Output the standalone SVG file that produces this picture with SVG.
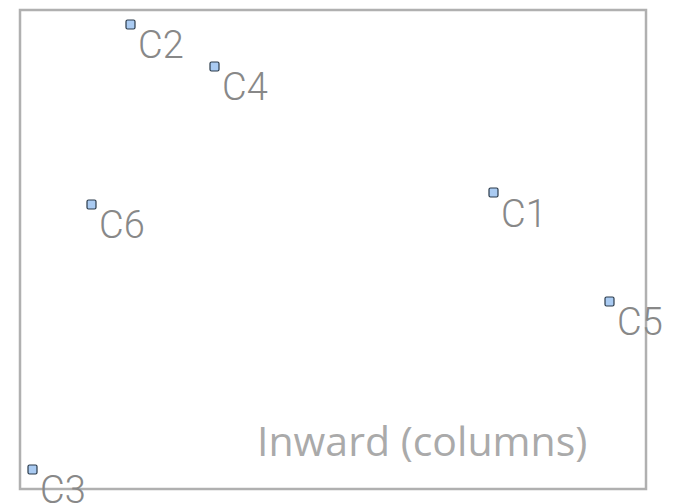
<svg xmlns="http://www.w3.org/2000/svg" width="679" height="503" viewBox="0 0 679 503">
  <style>
    .frame { fill: none; stroke: #b0b0b0; stroke-width: 2.5; }
    .pt { fill: #aacbf2; stroke: #2a3a4a; stroke-width: 1.2; }
    .lbl { font-family: Roboto, "Liberation Sans", sans-serif; font-size: 38px; font-weight: 300; fill: #888888; }
    .cap { font-family: "Open Sans", "Noto Sans", sans-serif; font-size: 41px; fill: #aaaaaa; }
  </style>
  <rect width="679" height="503" fill="#ffffff"/>
  <rect class="frame" x="20" y="10" width="626" height="479"/>
  <text class="cap" x="257" y="456">Inward (columns)</text>
  <g id="connectors"/>
  <g id="C1"><rect class="pt" x="489" y="188" width="9" height="9" rx="1.5"/><text class="lbl" x="501" y="227">C1</text></g>
  <g id="C2"><rect class="pt" x="126" y="20" width="9" height="9" rx="1.5"/><text class="lbl" x="138" y="58">C2</text></g>
  <g id="C3"><rect class="pt" x="28" y="465" width="9" height="9" rx="1.5"/><text class="lbl" x="40" y="503">C3</text></g>
  <g id="C4"><rect class="pt" x="210" y="62" width="9" height="9" rx="1.5"/><text class="lbl" x="222" y="100">C4</text></g>
  <g id="C5"><rect class="pt" x="605" y="297" width="9" height="9" rx="1.5"/><text class="lbl" x="617" y="335">C5</text></g>
  <g id="C6"><rect class="pt" x="87" y="200" width="9" height="9" rx="1.5"/><text class="lbl" x="99" y="238">C6</text></g>
</svg>
